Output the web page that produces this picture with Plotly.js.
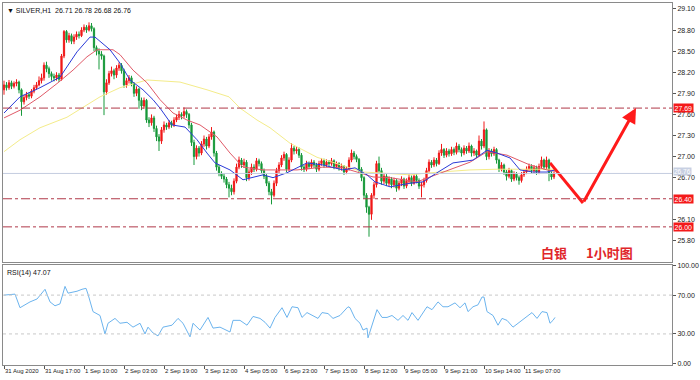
<!DOCTYPE html>
<html><head><meta charset="utf-8">
<script src="https://cdn.plot.ly/plotly-3.0.1.min.js"></script>
<style>html,body{margin:0;padding:0;background:#fff;}#chart{width:700px;height:380px;}</style>
</head><body><div id="chart"></div>
<script>
// ---- SILVER H1 candles (bar index 0..220) ----
const opens = [27.95,28.02,27.98,28.05,28.00,28.04,28.06,27.95,27.78,27.84,
27.88,27.86,27.93,27.98,28.02,28.08,28.12,28.30,28.25,28.18,
28.14,28.12,28.16,28.10,28.43,28.78,28.66,28.72,28.64,28.70,
28.74,28.72,28.80,28.84,28.80,28.86,28.82,28.55,28.50,28.46,
28.43,27.92,28.05,28.18,28.22,28.16,28.26,28.30,28.22,28.02,
28.08,28.12,28.04,27.90,27.96,27.80,27.72,27.80,27.52,27.48,
27.55,27.40,27.28,27.22,27.38,27.45,27.42,27.48,27.45,27.52,
27.56,27.60,27.58,27.64,27.60,27.45,27.20,27.00,27.12,27.05,
27.18,27.25,27.15,27.28,27.35,27.05,26.85,26.76,26.72,26.68,
26.60,26.55,26.50,26.65,26.85,26.95,26.88,26.92,26.70,26.78,
26.85,26.82,26.94,26.90,26.80,26.72,26.62,26.50,26.45,26.62,
26.80,26.88,26.98,27.03,26.82,26.95,27.12,27.08,27.10,27.02,
26.85,26.82,26.90,26.86,26.92,26.88,26.82,26.90,26.94,26.88,
26.92,26.90,26.94,26.86,26.90,26.84,26.86,26.78,26.82,26.95,
27.05,27.00,26.96,26.82,26.70,26.45,26.28,26.18,26.45,26.60,
26.90,26.80,26.65,26.72,26.62,26.68,26.60,26.66,26.55,26.62,
26.68,26.58,26.65,26.70,26.62,26.72,26.66,26.58,26.60,26.66,
26.80,26.92,26.88,26.95,26.90,27.05,27.10,27.02,27.08,27.04,
27.10,27.06,27.15,27.10,27.05,27.12,27.08,27.15,27.05,27.08,
27.02,27.22,27.15,27.38,27.00,27.08,27.04,27.10,26.95,26.82,
26.88,26.78,26.72,26.80,26.68,26.75,26.70,26.66,26.74,26.78,
26.82,26.86,26.80,26.84,26.78,26.86,26.95,26.85,26.95,26.76,
26.71];
const highs = [28.08,28.06,28.09,28.08,28.07,28.10,28.08,27.97,27.88,27.92,
27.91,27.96,28.02,28.06,28.14,28.18,28.34,28.35,28.28,28.21,
28.18,28.20,28.19,28.46,28.80,28.80,28.76,28.75,28.74,28.78,
28.78,28.84,28.88,28.87,28.91,28.90,28.84,28.58,28.54,28.50,
28.45,28.10,28.22,28.28,28.25,28.30,28.34,28.33,28.25,28.12,
28.16,28.15,28.06,28.00,27.98,27.84,27.84,27.82,27.56,27.60,
27.58,27.44,27.32,27.42,27.50,27.48,27.52,27.51,27.56,27.60,
27.65,27.63,27.70,27.67,27.62,27.48,27.24,27.16,27.15,27.22,
27.30,27.28,27.32,27.42,27.37,27.08,26.88,26.79,26.76,26.71,
26.64,26.60,26.69,26.90,27.00,26.98,26.97,26.95,26.82,26.90,
26.89,26.98,26.97,26.93,26.83,26.75,26.65,26.54,26.66,26.84,
26.92,27.02,27.07,27.05,26.99,27.19,27.15,27.14,27.13,27.05,
26.88,26.94,26.93,26.96,26.95,26.91,26.94,26.98,26.97,26.96,
26.95,26.98,26.96,26.93,26.92,26.90,26.88,26.86,26.99,27.10,
27.08,27.03,26.98,26.85,26.72,26.48,26.30,26.48,26.64,26.94,
27.00,26.84,26.76,26.75,26.72,26.71,26.70,26.68,26.66,26.72,
26.70,26.69,26.75,26.73,26.76,26.75,26.69,26.64,26.70,26.84,
26.96,26.95,26.99,26.98,27.09,27.18,27.12,27.12,27.11,27.14,
27.13,27.20,27.18,27.13,27.16,27.15,27.20,27.17,27.12,27.10,
27.30,27.25,27.50,27.40,27.12,27.11,27.14,27.12,26.97,26.92,
26.90,26.81,26.84,26.82,26.79,26.78,26.73,26.78,26.82,26.86,
26.90,26.89,26.88,26.87,26.90,27.00,26.97,27.00,26.97,26.79,
26.78];
const lows = [27.88,27.94,27.95,27.96,27.97,28.00,27.90,27.58,27.74,27.80,
27.82,27.83,27.90,27.95,28.00,28.04,28.08,28.20,28.12,28.08,
28.07,28.08,28.06,28.08,28.40,28.62,28.62,28.60,28.60,28.66,
28.68,28.70,28.77,28.76,28.78,28.78,28.50,28.44,28.24,28.38,
27.59,27.88,28.02,28.14,28.10,28.12,28.22,28.18,27.98,27.98,
28.04,28.00,27.85,27.86,27.68,27.66,27.68,27.48,27.42,27.44,
27.35,27.22,27.08,27.18,27.34,27.38,27.39,27.41,27.42,27.49,
27.52,27.53,27.55,27.55,27.40,27.15,26.88,26.96,27.00,27.02,
27.14,27.10,27.12,27.24,27.00,26.80,26.72,26.68,26.63,26.55,
26.42,26.45,26.46,26.62,26.82,26.84,26.84,26.65,26.66,26.74,
26.78,26.79,26.86,26.76,26.68,26.58,26.45,26.32,26.42,26.58,
26.76,26.85,26.94,26.78,26.79,26.92,27.03,27.04,26.98,26.80,
26.78,26.79,26.82,26.83,26.84,26.78,26.79,26.87,26.84,26.85,
26.86,26.87,26.82,26.83,26.80,26.80,26.74,26.75,26.80,26.92,
26.96,26.92,26.78,26.65,26.40,26.20,25.86,26.10,26.40,26.56,
26.75,26.60,26.61,26.58,26.58,26.55,26.56,26.50,26.52,26.58,
26.54,26.55,26.62,26.58,26.60,26.62,26.54,26.42,26.56,26.63,
26.77,26.84,26.85,26.86,26.88,27.01,26.98,26.99,27.00,27.01,
27.02,27.03,27.06,27.00,27.02,27.04,27.05,27.00,27.01,26.98,
27.00,27.10,27.12,26.95,26.96,27.00,27.01,26.90,26.78,26.79,
26.74,26.66,26.69,26.64,26.65,26.66,26.60,26.63,26.71,26.75,
26.79,26.76,26.77,26.74,26.75,26.83,26.81,26.82,26.65,26.67,
26.68];
const closes = [28.02,27.98,28.05,28.00,28.04,28.06,27.95,27.78,27.84,27.88,
27.86,27.93,27.98,28.02,28.08,28.12,28.30,28.25,28.18,28.14,
28.12,28.16,28.10,28.43,28.78,28.66,28.72,28.64,28.70,28.74,
28.72,28.80,28.84,28.80,28.86,28.82,28.55,28.50,28.46,28.43,
27.92,28.05,28.18,28.22,28.16,28.26,28.30,28.22,28.02,28.08,
28.12,28.04,27.90,27.96,27.80,27.72,27.80,27.52,27.48,27.55,
27.40,27.28,27.22,27.38,27.45,27.42,27.48,27.45,27.52,27.56,
27.60,27.58,27.64,27.60,27.45,27.20,27.00,27.12,27.05,27.18,
27.25,27.15,27.28,27.35,27.05,26.85,26.76,26.72,26.68,26.60,
26.55,26.50,26.65,26.85,26.95,26.88,26.92,26.70,26.78,26.85,
26.82,26.94,26.90,26.80,26.72,26.62,26.50,26.45,26.62,26.80,
26.88,26.98,27.03,26.82,26.95,27.12,27.08,27.10,27.02,26.85,
26.82,26.90,26.86,26.92,26.88,26.82,26.90,26.94,26.88,26.92,
26.90,26.94,26.86,26.90,26.84,26.86,26.78,26.82,26.95,27.05,
27.00,26.96,26.82,26.70,26.45,26.28,26.18,26.45,26.60,26.90,
26.80,26.65,26.72,26.62,26.68,26.60,26.66,26.55,26.62,26.68,
26.58,26.65,26.70,26.62,26.72,26.66,26.58,26.60,26.66,26.80,
26.92,26.88,26.95,26.90,27.05,27.10,27.02,27.08,27.04,27.10,
27.06,27.15,27.10,27.05,27.12,27.08,27.15,27.05,27.08,27.02,
27.22,27.15,27.38,27.00,27.08,27.04,27.10,26.95,26.82,26.88,
26.78,26.72,26.80,26.68,26.75,26.70,26.66,26.74,26.78,26.82,
26.86,26.80,26.84,26.78,26.86,26.95,26.85,26.95,26.76,26.71,
26.76];

// ---- moving averages ----
const maFastIdx = [0,6.4,14.4,22.4,29.2,34.4,36.4,42.4,46.4,50.4,55.6,59.6,62.4,67.2,72.4,77.2,81.2,84.4,90.4,95.6,103.6,107.6,113.2,121.2,127.6,135.6,140.4,145.2,148.4,154.4,162.4,167.6,173.2,179.6,187.6,193.2,197.2,202.4,206.4,211.6,217.2,220.4];
const maFastVal = [27.62,27.85,27.98,28.13,28.49,28.70,28.70,28.52,28.33,28.09,27.95,27.81,27.69,27.45,27.42,27.24,27.05,26.91,26.81,26.67,26.74,26.70,26.77,26.91,26.88,26.81,26.84,26.74,26.64,26.57,26.62,26.64,26.77,26.91,26.95,27.09,27.05,26.98,26.81,26.78,26.78,26.81];
const maMidIdx = [0,6.4,14.4,21.6,27.6,33.2,37.2,43.6,46.4,51.6,57.2,62.4,67.6,73.2,78.4,85.2,90.4,93.2,95.6,103.6,117.2,127.6,135.6,141.2,147.6,154.4,165.2,170.4,178.4,186.4,193.2,201.2,210.4,217.2,220.4];
const maMidVal = [27.55,27.66,27.85,28.05,28.23,28.42,28.52,28.52,28.45,28.23,28.05,27.81,27.62,27.52,27.45,27.28,27.05,26.95,26.85,26.81,26.81,26.85,26.84,26.78,26.71,26.70,26.64,26.71,26.81,26.92,27.07,27.02,26.88,26.81,26.79];
const maSlowIdx = [0,6.4,14.4,25.2,38.4,46.4,57.2,70.4,81.2,90,94.4,101.2,106.4,114.4,125.2,134.4,143.6,149.2,162.4,170.4,186.4,197.2,210.4,220.4];
const maSlowVal = [27.07,27.24,27.41,27.56,27.85,27.98,28.09,28.06,27.95,27.85,27.69,27.52,27.41,27.19,26.99,26.88,26.78,26.77,26.74,26.77,26.81,26.82,26.82,26.82];

// ---- RSI(14) ----
const rsiIdx = [0,4.4,6.4,10.4,13.2,16.4,18.4,20.4,22.4,24.4,25.6,29.2,31.2,32.8,33.6,35.6,38.4,40.4,41.6,44.4,46.4,49.2,51.6,54.4,56.4,57.6,59.6,61.6,63.6,67.2,69.6,71.6,74.4,75.6,78.4,81.6,83.6,86.4,90.4,91.6,94.4,97.2,99.6,102.4,104.4,106.4,108.4,111.2,113.2,115.2,117.6,119.2,121.2,123.6,125.6,127.2,129.6,131.6,134.4,137.6,138.4,140.4,142.4,143.6,145.2,145.6,147.6,149.2,151.2,153.2,155.2,157.6,159.6,161.6,163.2,165.6,169.2,171.2,173.6,175.6,177.6,180.4,182.4,184.4,185.6,187.6,189.6,191.2,192,193.2,195.6,197.6,199.2,201.2,203.6,205.6,208.4,211.2,213.2,215.2,217.2,218.4,219.6,220.4];
const rsiVal = [70,71,57,63,66,76,63,59,61,79,72,74,76,77,71,53,49,30,41,46,41,42,37,41,30,37,31,28,37,39,46,41,27,41,34,47,36,37,32,44,44,39,48,46,42,36,47,57,47,58,57,47,52,49,46,52,51,46,49,58,57,46,41,34,36,26,41,55,47,47,49,44,49,44,52,44,58,55,63,58,58,62,57,62,53,58,60,68,68,53,49,39,46,44,37,41,46,52,46,53,52,41,44,47];

// ---- labels / levels / forecast arrow ----
const timeLabels = ["31 Aug 2020","31 Aug 17:00","1 Sep 10:00","2 Sep 03:00","2 Sep 19:00","3 Sep 12:00","4 Sep 05:00","6 Sep 23:00","7 Sep 15:00","8 Sep 12:00","9 Sep 05:00","9 Sep 21:00","10 Sep 14:00","11 Sep 07:00"];
const priceTicks = [25.80,26.10,26.70,27.00,27.30,27.60,27.90,28.20,28.50,28.80,29.10];
const rsiTicks = [0,30,70,100];
const levels = [27.69,26.40,26.00];
const lastPrice = 26.76;
const arrowIdx = [218.4,231.6,252.8];
const arrowPrice = [26.91,26.34,27.69];

const idx = closes.map((_, i) => i);
const FONT = "Liberation Sans, Arial, sans-serif";
const FRAME = "#8a8a8a";

const traces = [
  {type:'candlestick', x: idx, open: opens, high: highs, low: lows, close: closes,
   xaxis:'x', yaxis:'y', whiskerwidth:0,
   increasing:{line:{color:'#f01818', width:1}, fillcolor:'#f01818'},
   decreasing:{line:{color:'#17993a', width:1}, fillcolor:'#17993a'},
   hoverinfo:'skip'},
  {type:'scatter', mode:'lines', x: maSlowIdx, y: maSlowVal, xaxis:'x', yaxis:'y',
   line:{color:'#f4ec8a', width:1}, hoverinfo:'skip'},
  {type:'scatter', mode:'lines', x: maMidIdx, y: maMidVal, xaxis:'x', yaxis:'y',
   line:{color:'#e05a68', width:1}, hoverinfo:'skip'},
  {type:'scatter', mode:'lines', x: maFastIdx, y: maFastVal, xaxis:'x', yaxis:'y',
   line:{color:'#2a3ad8', width:1}, hoverinfo:'skip'},
  {type:'scatter', mode:'lines', x: arrowIdx.slice(0,2), y: arrowPrice.slice(0,2), xaxis:'x', yaxis:'y',
   line:{color:'#ff1a1a', width:3}, hoverinfo:'skip'},
  {type:'scatter', mode:'lines', x: rsiIdx, y: rsiVal, xaxis:'x2', yaxis:'y2',
   line:{color:'#6cb4ee', width:1}, hoverinfo:'skip'}
];

const shapes = [];
levels.forEach(v => shapes.push({type:'line', xref:'paper', x0:0, x1:1, yref:'y', y0:v, y1:v,
  line:{color:'#b03848', width:1, dash:'dashdot'}}));
shapes.push({type:'line', xref:'paper', x0:0, x1:1, yref:'y', y0:lastPrice, y1:lastPrice,
  line:{color:'#c4cce0', width:1}});
[30,70].forEach(v => shapes.push({type:'line', xref:'paper', x0:0, x1:1, yref:'y2', y0:v, y1:v,
  line:{color:'#c8c8c8', width:1, dash:'dot'}}));

const annotations = [];
timeLabels.forEach((t,k) => annotations.push({xref:'x2', x:k*16, yref:'paper', y:0, yanchor:'top',
  xanchor:'left', yshift:-1, xshift:-1, text:t, showarrow:false, font:{family:FONT, size:6, color:'#222'}}));
levels.forEach(v => annotations.push({xref:'paper', x:1, xanchor:'left', xshift:1, yref:'y', y:v,
  text:v.toFixed(2), showarrow:false, bgcolor:'#f41a1a', borderpad:0.5,
  font:{family:FONT, size:7, color:'#ffffff'}}));
annotations.push({xref:'paper', x:1, xanchor:'left', xshift:1, yshift:2, yref:'y', y:lastPrice,
  text:lastPrice.toFixed(2), showarrow:false, bgcolor:'#c8d0e2', borderpad:0,
  font:{family:FONT, size:6.5, color:'#ffffff'}});
annotations.push({xref:'x', x:arrowIdx[2], yref:'y', y:arrowPrice[2], axref:'x', ax:arrowIdx[1], ayref:'y', ay:arrowPrice[1],
  showarrow:true, arrowhead:2, arrowsize:1, arrowwidth:3, arrowcolor:'#ff1a1a', text:''});
annotations.push({xref:'paper', x:0, xanchor:'left', xshift:2, yref:'paper', y:1, yanchor:'top', yshift:-2,
  text:'▼ SILVER,H1  26.71 26.78 26.68 26.76', showarrow:false, font:{family:FONT, size:7, color:'#111'}});
annotations.push({xref:'paper', x:0, xanchor:'left', xshift:2, yref:'paper', y:0.276, yanchor:'top', yshift:-2,
  text:'RSI(14) 47.07', showarrow:false, font:{family:FONT, size:7, color:'#111'}});
annotations.push({xref:'x', x:214, xanchor:'left', yref:'y', y:25.64, text:'<b>白银</b>', showarrow:false,
  font:{family:'Noto Sans CJK SC, sans-serif', size:13, color:'#e0262a'}});
annotations.push({xref:'x', x:232, xanchor:'left', yref:'y', y:25.64, text:'<b>1小时图</b>', showarrow:false,
  font:{family:'Noto Sans CJK SC, sans-serif', size:13, color:'#e0262a'}});

const layout = {
  width:700, height:380, margin:{l:3, r:28, t:3, b:15},
  paper_bgcolor:'#ffffff', plot_bgcolor:'#ffffff', showlegend:false,
  font:{family:FONT, size:7, color:'#222'},
  xaxis:{domain:[0,1], anchor:'y', range:[-0.4, 267.2], showticklabels:false, ticks:'',
    showline:true, mirror:true, linecolor:FRAME, linewidth:1, showgrid:false, zeroline:false,
    rangeslider:{visible:false}, fixedrange:true},
  xaxis2:{domain:[0,1], anchor:'y2', matches:'x', range:[-0.4, 267.2], showticklabels:false,
    tickvals: timeLabels.map((_,k)=>k*16), ticks:'outside', ticklen:3, tickcolor:'#555',
    showline:true, mirror:true, linecolor:FRAME, linewidth:1, showgrid:false, zeroline:false, fixedrange:true},
  yaxis:{domain:[0.2845,1], anchor:'x', side:'right', range:[25.50, 29.185],
    tickvals: priceTicks, ticktext: priceTicks.map(v=>v.toFixed(2)), ticks:'outside', ticklen:3, tickcolor:'#555',
    tickfont:{family:FONT, size:7, color:'#222'},
    showline:true, mirror:true, linecolor:FRAME, linewidth:1, showgrid:false, zeroline:false, fixedrange:true},
  yaxis2:{domain:[0,0.2762], anchor:'x2', side:'right', range:[-2, 101],
    tickvals: rsiTicks, ticktext: rsiTicks.map(v=>v.toFixed(2)), ticks:'outside', ticklen:3, tickcolor:'#555',
    tickfont:{family:FONT, size:7, color:'#222'},
    showline:true, mirror:true, linecolor:FRAME, linewidth:1, showgrid:false, zeroline:false, fixedrange:true},
  shapes: shapes, annotations: annotations
};

Plotly.newPlot('chart', traces, layout, {staticPlot:true, displayModeBar:false});
</script></body></html>
